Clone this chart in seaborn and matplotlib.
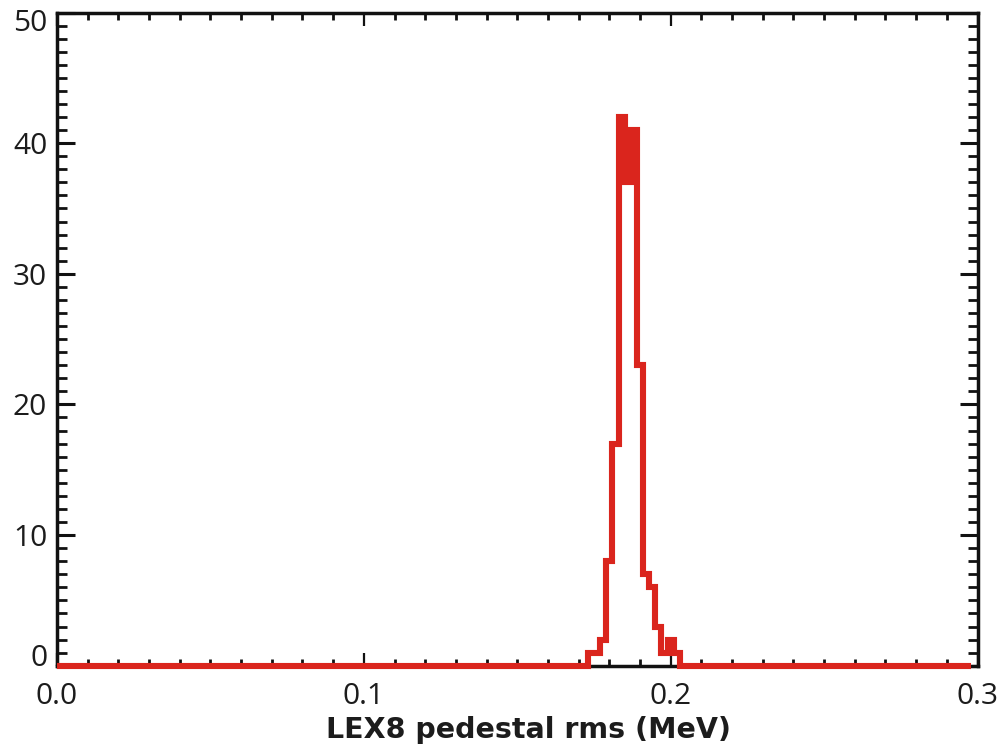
import numpy as np
import pandas as pd
import matplotlib
matplotlib.use("Agg")
import matplotlib.pyplot as plt
import matplotlib.transforms as mtransforms
from matplotlib.ticker import MultipleLocator, FixedLocator
import seaborn as sns

# Histogram of LEX8 pedestal rms: 150 bins of 0.002 MeV, centred on 0.000 ... 0.298
bin_width = 0.002
n_bins = 150
# Non-empty bins start at the bin centred on 0.174 MeV
peak_first_center = 0.174
peak_counts = [1, 1, 2, 8, 17, 42, 37, 41, 23, 7, 6, 3, 1, 2, 1]

x_ticks = [0.0, 0.1, 0.2, 0.3]
x_tick_labels = ["0.0", "0.1", "0.2", "0.3"]
y_ticks = [0, 10, 20, 30, 40, 50]
y_tick_labels = ["0", "10", "20", "30", "40", "50"]
x_label = "LEX8 pedestal rms (MeV)"

centers = np.round(np.arange(n_bins) * bin_width, 4)
counts = np.zeros(n_bins)
first = int(round(peak_first_center / bin_width))
counts[first:first + len(peak_counts)] = peak_counts
df = pd.DataFrame({"rms": centers, "count": counts})

sns.set_theme(style="ticks")
plt.rcParams["font.family"] = ["Open Sans", "DejaVu Sans"]

fig = plt.figure(figsize=(10.03, 7.54), dpi=100)
ax = fig.add_axes([0.0568, 0.1171, 0.9178, 0.8663])

line_color = "#DA251D"
sns.lineplot(data=df, x="rms", y="count", ax=ax, estimator=None,
             drawstyle="steps-mid", color=line_color, linewidth=4.4,
             solid_joinstyle="miter", solid_capstyle="butt")
for ln in ax.get_lines():
    ln.set_clip_on(False)
    ln.set_zorder(4)

ax.set_xlim(0.0, 0.3)
ax.set_ylim(0, 50)

ax.xaxis.set_major_locator(FixedLocator(x_ticks))
ax.set_xticklabels(x_tick_labels)
ax.yaxis.set_major_locator(FixedLocator(y_ticks))
ax.set_yticklabels(y_tick_labels)
ax.xaxis.set_minor_locator(MultipleLocator(0.01))
ax.yaxis.set_minor_locator(MultipleLocator(1))

text_color = "#1c1c1c"
for side in ["left", "right", "top", "bottom"]:
    ax.spines[side].set_linewidth(2.5)
    ax.spines[side].set_color("#111111")
    ax.spines[side].set_visible(True)

ax.tick_params(which="both", direction="in", top=True, right=True,
               color="#111111", labelcolor=text_color, labelsize=21.5)
ax.tick_params(axis="x", which="major", length=9.5, width=1.6, pad=12)
ax.tick_params(axis="x", which="minor", length=4.8, width=2.0)
ax.tick_params(axis="y", which="major", length=13, width=2.2, pad=7)
ax.tick_params(axis="y", which="minor", length=7.2, width=2.0)

ax.set_xlabel(x_label, fontsize=20.5, fontweight="bold", color=text_color,
              family=["DejaVu Sans"])
ax.xaxis.set_label_coords(0.5117, -0.0985)
ax.xaxis.label.set_verticalalignment("center")
ax.set_ylabel("")

# Keep the end labels of the y axis inside the frame
yticks = ax.yaxis.get_major_ticks()
up = mtransforms.ScaledTranslation(0, 10.5 / 100, fig.dpi_scale_trans)
down = mtransforms.ScaledTranslation(0, -7.5 / 100, fig.dpi_scale_trans)
yticks[0].label1.set_transform(yticks[0].label1.get_transform() + up)
yticks[-1].label1.set_transform(yticks[-1].label1.get_transform() + down)

fig.savefig("out.png", dpi=100, facecolor="white")
